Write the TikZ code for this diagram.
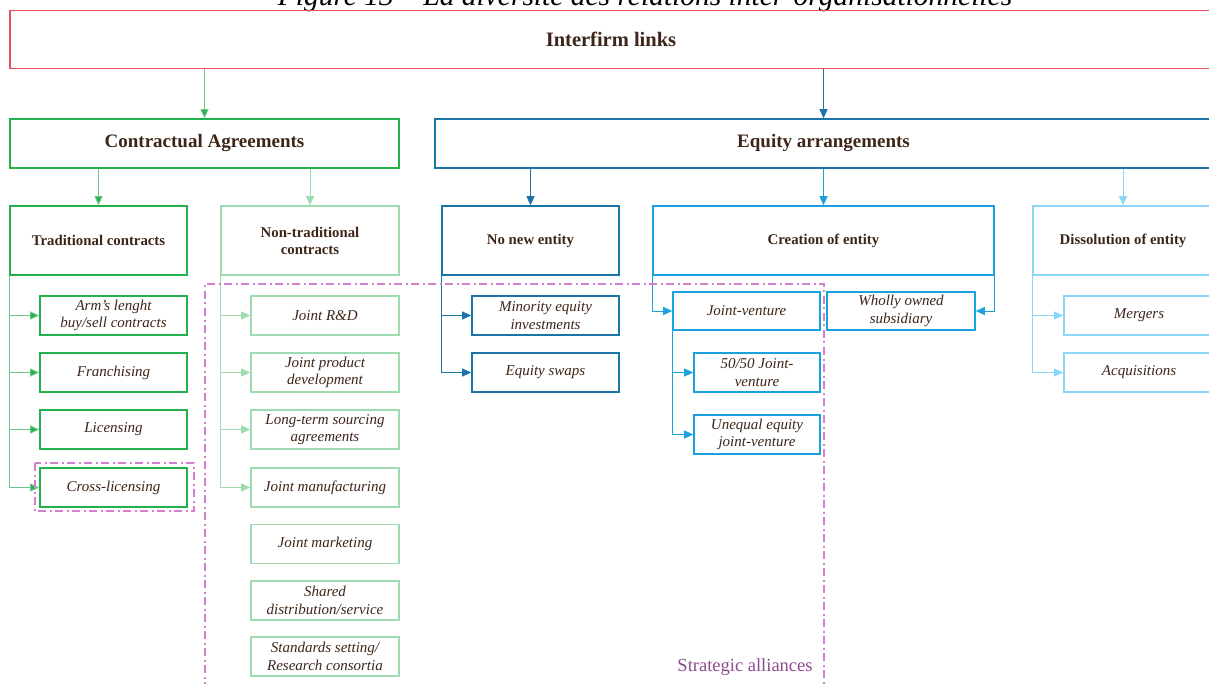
\documentclass[tikz,border=0pt]{standalone}
\usepackage{fontspec}
\setmainfont{Liberation Serif}
\usetikzlibrary{arrows.meta}
\definecolor{txt}{HTML}{3D2518}
\definecolor{cred}{HTML}{E8505B}
\definecolor{cgreen}{HTML}{22B14C}
\definecolor{cgreenl}{HTML}{9FDBB0}
\definecolor{cgreenm}{HTML}{6CC787}
\definecolor{cblued}{HTML}{1B74A6}
\definecolor{cblue}{HTML}{1AA2DF}
\definecolor{cbluel}{HTML}{8CD7F7}
\definecolor{cpink}{HTML}{D67FCF}
\definecolor{cpurple}{HTML}{8E4A8E}
\tikzset{
  x=1pt, y=-1pt,
  box/.style={draw, line width=1.6pt, inner sep=0pt, align=center, text=txt},
  bighead/.style={box, font=\fontsize{19}{22}\selectfont\bfseries},
  head/.style={box, font=\fontsize{14.8}{17}\selectfont\bfseries},
  item/.style={box, font=\fontsize{15}{17.5}\selectfont\itshape},
  conn/.style={line width=0.9pt, -{Triangle[length=9pt,width=8pt]}},
  alliance/.style={cpink, line width=2pt, dash pattern=on 8pt off 3.5pt on 2pt off 3.5pt},
}
\begin{document}
\begin{tikzpicture}
\useasboundingbox (0,0) rectangle (1209,684);
\clip (0,0) rectangle (1209,684);
\fill[white] (0,0) rectangle (1209,684);

% title (cut off at top, as in the reference)
\node[anchor=base, font=\fontsize{29.5}{32}\selectfont\itshape, text=black, inner sep=0pt] (title) at (645,6) {Figure 13 -- La diversité des relations inter-organisationnelles};

% level 0-1
\node[bighead, draw=cred, minimum width=1202pt, minimum height=58pt, font=\fontsize{20.5}{23}\selectfont\bfseries] (inter) at (611,39.5) {Interfirm links};
\node[bighead, draw=cgreen, minimum width=389pt, minimum height=49pt] (contr) at (204.5,143.5) {Contractual Agreements};
\node[bighead, draw=cblued, minimum width=777pt, minimum height=49pt] (equity) at (823.5,143.5) {Equity arrangements};

% level 2
\node[head, draw=cgreen, minimum width=177pt, minimum height=69pt] (trad) at (98.5,240.5) {Traditional contracts};
\node[head, draw=cgreenl, minimum width=178pt, minimum height=69pt] (nontrad) at (310,240.5) {Non-traditional\\contracts};
\node[head, draw=cblued, minimum width=177pt, minimum height=69pt] (nonew) at (530.5,240.5) {No new entity};
\node[head, draw=cblue, minimum width=341pt, minimum height=69pt] (creation) at (823.5,240.5) {Creation of entity};
\node[head, draw=cbluel, minimum width=180pt, minimum height=69pt] (dissol) at (1123,240.5) {Dissolution of entity};

% traditional contracts
\begin{scope}[every node/.style={item, draw=cgreen, minimum width=147pt, minimum height=39pt}]
\node (arm) at (113.5,315.5) {Arm’s lenght\\buy/sell contracts};
\node (fran) at (113.5,372.5) {Franchising};
\node (lic) at (113.5,429.5) {Licensing};
\node (cross) at (113.5,487.5) {Cross-licensing};
\end{scope}

% non-traditional contracts
\begin{scope}[every node/.style={item, draw=cgreenl, minimum width=148pt, minimum height=39pt}]
\node (jrd) at (325,315.5) {Joint R\&D};
\node (jpd) at (325,372.5) {Joint product\\development};
\node (lts) at (325,429.5) {Long-term sourcing\\agreements};
\node (jman) at (325,487.5) {Joint manufacturing};
\node (jmkt) at (325,544) {Joint marketing};
\node (shared) at (325,600.5) {Shared\\distribution/service};
\node (std) at (325,656.5) {Standards setting/\\Research consortia};
\end{scope}

% no new entity
\begin{scope}[every node/.style={item, draw=cblued, minimum width=147pt, minimum height=39pt}]
\node (minority) at (545.5,315.5) {Minority equity\\investments};
\node (swaps) at (545.5,372.5) {Equity swaps};
\end{scope}

% creation of entity
\begin{scope}[every node/.style={item, draw=cblue, minimum height=38pt}]
\node[minimum width=147pt] (jv) at (746.5,311) {Joint-venture};
\node[minimum width=148pt] (wholly) at (901,311) {Wholly owned\\subsidiary};
\node[minimum width=126pt, minimum height=39pt] (fifty) at (757,372.5) {50/50 Joint-\\venture};
\node[minimum width=126pt, minimum height=39pt] (unequal) at (757,434.5) {Unequal equity\\joint-venture};
\end{scope}

% dissolution
\begin{scope}[every node/.style={item, draw=cbluel, minimum width=150pt, minimum height=39pt}]
\node (mergers) at (1139,315.5) {Mergers};
\node (acq) at (1139,372.5) {Acquisitions};
\end{scope}

% connectors level 0-2
\draw[conn, draw=cgreenm, -{Triangle[length=9pt,width=8pt,fill=cgreen]}] (inter.south -| contr.north) -- (contr.north);
\draw[conn, cblued] (inter.south -| equity.north) -- (equity.north);
\draw[conn, draw=cgreenm, -{Triangle[length=9pt,width=8pt,fill=cgreen]}] (contr.south -| trad.north) -- (trad.north);
\draw[conn, cgreenl] (contr.south -| nontrad.north) -- (nontrad.north);
\draw[conn, cblued] (equity.south -| nonew.north) -- (nonew.north);
\draw[conn, cblue] (equity.south -| creation.north) -- (creation.north);
\draw[conn, cbluel] (equity.south -| dissol.north) -- (dissol.north);

% branches
\foreach \c in {arm,fran,lic,cross}
  \draw[conn, draw=cgreenm, -{Triangle[length=9pt,width=8pt,fill=cgreen]}] (trad.south west) |- (\c.west);
\foreach \c in {jrd,jpd,lts,jman}
  \draw[conn, cgreenl] (nontrad.south west) |- (\c.west);
\foreach \c in {minority,swaps}
  \draw[conn, cblued] (nonew.south west) |- (\c.west);
\draw[conn, cblue] (creation.south west) |- (jv.west);
\draw[conn, cblue] (creation.south east) |- (wholly.east);
\foreach \c in {fifty,unequal}
  \draw[conn, cblue] (jv.south west) |- (\c.west);
\foreach \c in {mergers,acq}
  \draw[conn, cbluel] (dissol.south west) |- (\c.west);

% strategic alliances
\draw[alliance] (205,690) -- (205,284) -- (824,284) -- (824,690);
\draw[alliance] (35,463) rectangle (194,511);
\node[text=cpurple, font=\fontsize{18.5}{21}\selectfont, inner sep=0pt] (sa) at (745,667) {Strategic alliances};
\end{tikzpicture}
\end{document}
